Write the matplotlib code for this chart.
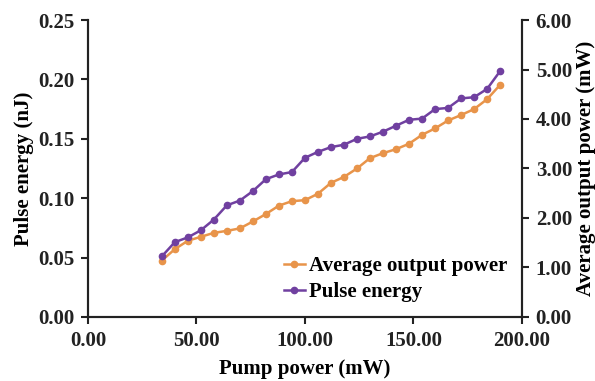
import matplotlib.pyplot as plt
from matplotlib.ticker import FormatStrFormatter

# pump power (mW)
pump = [34, 40, 46, 52, 58, 64, 70, 76, 82, 88, 94, 100, 106, 112, 118,
        124, 130, 136, 142, 148, 154, 160, 166, 172, 178, 184, 190]

# pulse energy (nJ), left axis
energy = [0.051, 0.063, 0.067, 0.073, 0.082, 0.094, 0.098, 0.106, 0.116, 0.120,
          0.122, 0.134, 0.139, 0.143, 0.145, 0.150, 0.152, 0.156, 0.161, 0.166,
          0.167, 0.175, 0.176, 0.184, 0.185, 0.192, 0.207]

# average output power (mW), right axis
avg_power = [1.14, 1.37, 1.54, 1.62, 1.70, 1.74, 1.79, 1.93, 2.08, 2.25,
             2.34, 2.36, 2.49, 2.71, 2.83, 3.00, 3.21, 3.31, 3.39, 3.50,
             3.68, 3.81, 3.97, 4.08, 4.20, 4.40, 4.69]

orange = '#e8944a'
purple = '#7040a0'

plt.rcParams['font.family'] = ['Liberation Serif', 'DejaVu Serif']
plt.rcParams['font.weight'] = 'bold'
plt.rcParams['font.size'] = 15

fig = plt.figure(figsize=(5.95, 3.81), dpi=100)
ax = fig.add_axes([0.148, 0.168, 0.729, 0.7795])
ax2 = ax.twinx()

# orange on the right axis, purple on the left (drawn above)
ax.set_zorder(2)
ax.patch.set_visible(False)

l2, = ax2.plot(pump, avg_power, color=orange, lw=1.8, marker='o', ms=4.5,
               label='Average output power')
l1, = ax.plot(pump, energy, color=purple, lw=1.8, marker='o', ms=4.5,
              label='Pulse energy')

ax.set_xlim(0, 200)
ax.set_ylim(0, 0.25)
ax2.set_ylim(0, 6)
ax.set_xticks([0, 50, 100, 150, 200])
ax.set_yticks([0, 0.05, 0.10, 0.15, 0.20, 0.25])
ax2.set_yticks([0, 1, 2, 3, 4, 5, 6])
ax.xaxis.set_major_formatter(FormatStrFormatter('%.2f'))
ax.yaxis.set_major_formatter(FormatStrFormatter('%.2f'))
ax2.yaxis.set_major_formatter(FormatStrFormatter('%.2f'))

for a in (ax, ax2):
    a.spines['top'].set_visible(False)
    for s in a.spines.values():
        s.set_linewidth(1.5)
        s.set_color('#222222')
    a.tick_params(width=1.5, length=5, direction='out', colors='#222222',
                  labelcolor='#222222', pad=5)

ax.set_xlabel('Pump power (mW)', fontweight='bold', labelpad=6)
ax.set_ylabel('Pulse energy (nJ)', fontweight='bold', labelpad=3)
ax2.set_ylabel('Average output power (mW)', fontweight='bold', labelpad=3)

ax.legend([l2, l1], ['Average output power', 'Pulse energy'], loc='lower right',
          frameon=False, handlelength=1.0, handletextpad=0.2, labelspacing=0.3,
          borderaxespad=0.3, prop={'weight': 'bold', 'size': 15})

fig.savefig('out.png', dpi=100)
